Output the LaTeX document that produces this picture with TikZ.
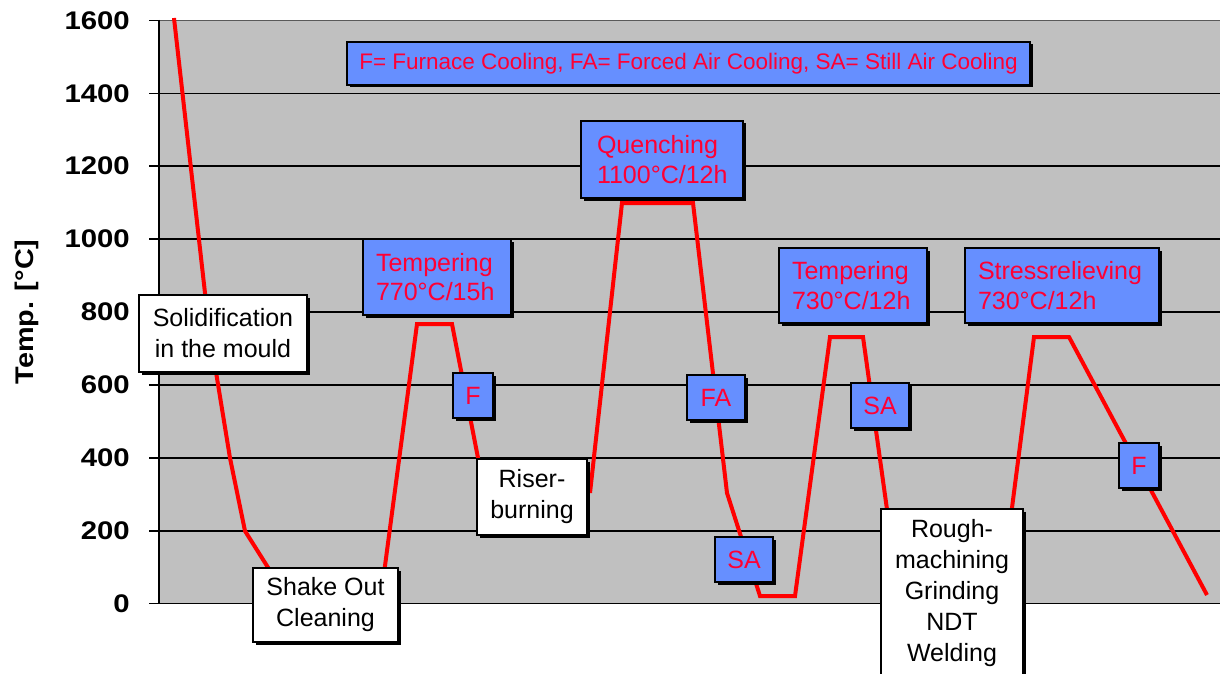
\documentclass[tikz,border=0pt]{standalone}
\usepackage{fontspec}
\setmainfont{Liberation Sans}
\usetikzlibrary{shadows}
\definecolor{plotgray}{RGB}{192,192,192}
\definecolor{boxblue}{RGB}{102,143,255}
\definecolor{txtred}{RGB}{255,0,51}
\definecolor{linered}{RGB}{255,0,0}
\begin{document}
\begin{tikzpicture}[x=1pt,y=-1pt,
  shadowed/.style={drop shadow={shadow xshift=2.5pt, shadow yshift=-2.5pt, fill=black, opacity=1}},
  whitebox/.style={shadowed, draw=black, line width=2pt, fill=white, inner sep=0pt, align=center, font=\fontsize{25}{31}\selectfont},
  bluebox/.style={shadowed, draw=black, line width=2pt, fill=boxblue, inner xsep=13pt, inner ysep=0pt, align=left, text=txtred, font=\fontsize{25}{29.5}\selectfont},
  smallbox/.style={shadowed, draw=black, line width=2pt, fill=boxblue, inner sep=0pt, align=center, text=txtred, font=\fontsize{25}{30}\selectfont},
  ticklabel/.style={anchor=east, inner sep=0pt, font=\bfseries\fontsize{25.5}{26}\selectfont},
  gridline/.style={black, line width=1.5pt},
  curve/.style={linered, line width=4pt, line join=miter}
]
\clip (0,0) rectangle (1220,674);
\fill[white] (0,0) rectangle (1220,674);
% plot area
\fill[plotgray] (159,20) rectangle (1220,603);
\foreach \y/\t in {93.3/1400,166.2/1200,239.1/1000,312/800,385/600,458/400,531/200}{
  \draw[gridline] (149,\y) -- (1220,\y);
  \node[ticklabel] (t\t) at (130,\y) {\scalebox{1.15}[1]{\t}};
}
\draw[gray!70!black, line width=1.5pt] (159,20.5) -- (1220,20.5);
\draw[gridline] (149,20.5) -- (159,20.5);
\node[ticklabel] (t1600) at (130,20.5) {\scalebox{1.15}[1]{1600}};
\draw[gridline] (149,603.3) -- (1220,603.3);
\node[ticklabel] (t0) at (130,603.3) {\scalebox{1.15}[1]{0}};
\draw[gridline] (159,20) -- (159,603.3);
\node[rotate=90, inner sep=0pt, font=\bfseries\fontsize{25.5}{26}\selectfont] (ytitle) at (27,312) {\scalebox{1.13}[1]{Temp. [°C]}};
% temperature curve
\draw[curve] (174,18) -- (205,293) -- (216,372) -- (230,458) -- (245,531) -- (286,596) -- (381,596)
  -- (417,324) -- (452,324) -- (485,494);
\draw[curve] (590,493) -- (622,203) -- (693,203) -- (727,493) -- (760,596) -- (795,596)
  -- (830,337) -- (863,337) -- (890,531);
\draw[curve] (1009,531) -- (1034,337) -- (1069,337) -- (1207,595);
% legend
\node[smallbox, minimum width=683pt, minimum height=43pt, font=\fontsize{22.5}{26}\selectfont] (legend) at (688.5,63.5)
  {F= Furnace Cooling, FA= Forced Air Cooling, SA= Still Air Cooling};
% process boxes
\node[whitebox, minimum width=168pt, minimum height=77pt] (solid) at (223,333.5) {Solidification\\in the mould};
\node[whitebox, minimum width=145pt, minimum height=74pt] (shake) at (325.5,605) {Shake Out\\Cleaning};
\node[whitebox, minimum width=110pt, minimum height=76pt] (riser) at (532,497) {Riser-\\burning};
\node[whitebox, minimum width=142pt, minimum height=169pt] (rough) at (952,593.5) {Rough-\\machining\\Grinding\\NDT\\Welding};
% heat treatment boxes
\node[bluebox, text width=122pt, minimum height=76pt] (temp1) at (437,277) {Tempering\\770°C/15h};
\node[bluebox, inner xsep=16pt, text width=130pt, minimum height=77pt] (quench) at (662,159.5) {Quenching\\1100°C/12h};
\node[bluebox, text width=122pt, minimum height=75pt] (temp2) at (853,285.5) {Tempering\\730°C/12h};
\node[bluebox, text width=168pt, minimum height=75pt] (stress) at (1062,285.5) {Stressrelieving\\730°C/12h};
% cooling boxes
\node[smallbox, minimum width=40pt, minimum height=45pt] (f1) at (473,395.5) {F};
\node[smallbox, minimum width=58pt, minimum height=45pt] (fa) at (716,397.5) {FA};
\node[smallbox, minimum width=58pt, minimum height=45pt] (sa1) at (744,559.5) {SA};
\node[smallbox, minimum width=58pt, minimum height=45pt] (sa2) at (880,405.5) {SA};
\node[smallbox, minimum width=40pt, minimum height=45pt] (f2) at (1139,465.5) {F};
\end{tikzpicture}
\end{document}
